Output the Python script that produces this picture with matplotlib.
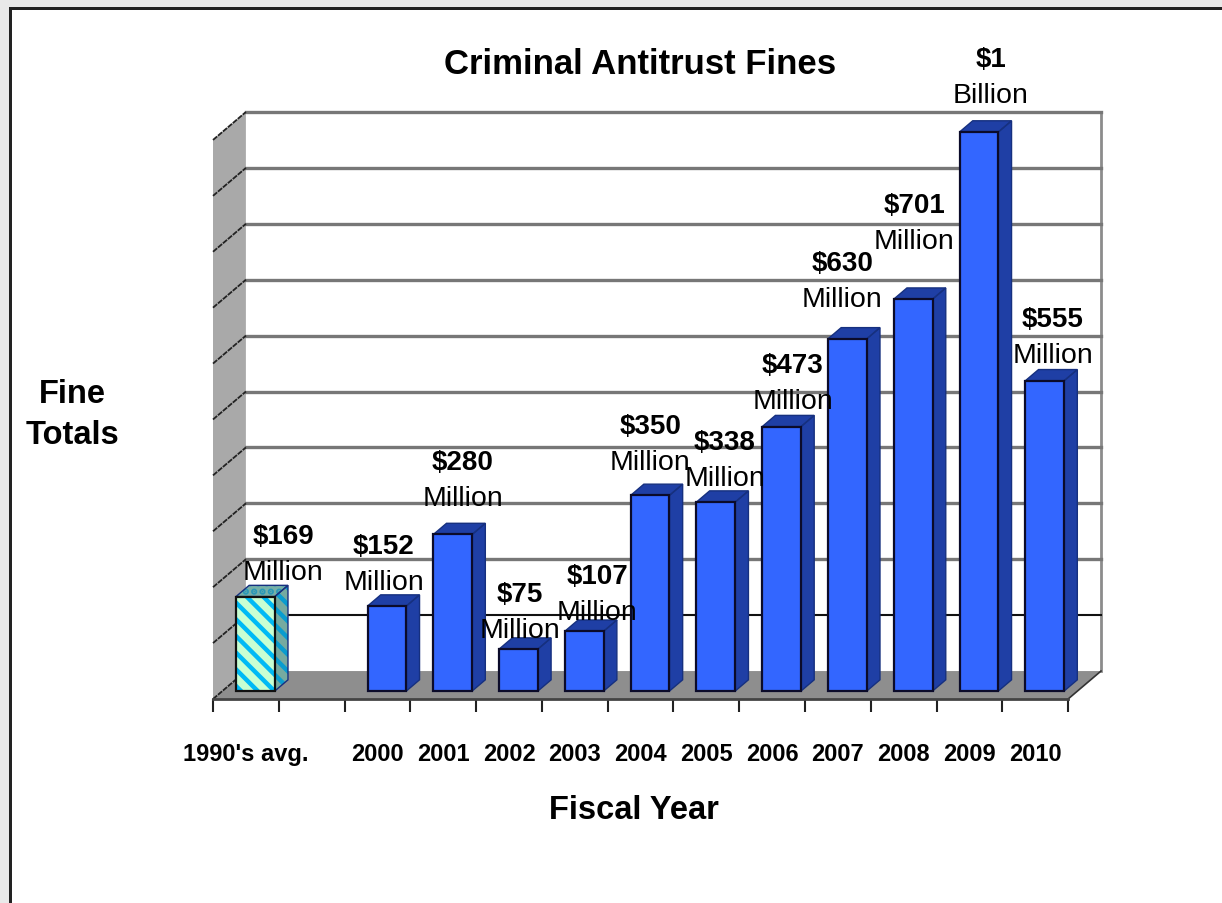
import matplotlib
matplotlib.use('Agg')
import matplotlib.pyplot as plt
from matplotlib.patches import Rectangle

plt.rcParams['font.family'] = ['Liberation Sans', 'DejaVu Sans']
plt.rcParams['hatch.linewidth'] = 3.2

# Fine totals in millions of dollars
categories = ["1990's avg.", "", "2000", "2001", "2002", "2003", "2004", "2005",
              "2006", "2007", "2008", "2009", "2010"]
fines = [169, None, 152, 280, 75, 107, 350, 338, 473, 630, 701, 1000, 555]
amount_labels = ["$169", None, "$152", "$280", "$75", "$107", "$350", "$338",
                 "$473", "$630", "$701", "$1", "$555"]
unit_labels = ["Million", None, "Million", "Million", "Million", "Million", "Million",
               "Million", "Million", "Million", "Million", "Billion", "Million"]
grid_values = [0, 100, 200, 300, 400, 500, 600, 700, 800, 900, 1000]

# 3D look: depth of the box and of each bar, in data units
BOX_DX, BOX_DY = 0.5, 50
BAR_SHIFT_X, BAR_SHIFT_Y = 0.145, 14.3
BAR_DX, BAR_DY = 0.2, 20
BAR_W = 0.59

# label placement relative to the top of each bar, in pixels
label_dx = [28, 0, -3, 10, 1, 13, 0, 9, 11, -5, 1, 12, 8]
label_dy = [12, 0, 11, 23, 6, 6, 20, 11, 13, 27, 45, 24, 13]

fig = plt.figure(figsize=(12.22, 9.04), dpi=100, facecolor='white')

# window frame around the page
fig.add_artist(Rectangle((0, 0), 9 / 1222, 1, transform=fig.transFigure, color='#e9e9e9', lw=0))
fig.add_artist(Rectangle((0, 1 - 8 / 904), 1, 8 / 904, transform=fig.transFigure, color='#e9e9e9', lw=0))
fig.add_artist(Rectangle((9 / 1222, 0), 3 / 1222, 1 - 8 / 904, transform=fig.transFigure, color='#222222', lw=0))
fig.add_artist(Rectangle((9 / 1222, 1 - 11 / 904), 1 - 9 / 1222, 3 / 904, transform=fig.transFigure, color='#222222', lw=0))

ax = fig.add_axes([213 / 1222, 204 / 904, 888 / 1222, 587 / 904])
ax.set_xlim(0, 13 + BOX_DX)
ax.set_ylim(0, 1000 + BOX_DY)
ax.patch.set_visible(False)
for s in ax.spines.values():
    s.set_visible(False)
ax.set_yticks([])

# box walls and floor
right = len(categories)
ax.fill([0, BOX_DX, BOX_DX, 0], [0, BOX_DY, 1000 + BOX_DY, 1000], color='#a9a9a9', lw=0, zorder=1)
ax.fill([0, right, right + BOX_DX, BOX_DX], [0, 0, BOX_DY, BOX_DY], color='#8e8e8e', lw=0, zorder=1)
ax.plot([right + BOX_DX] * 2, [BOX_DY, 1000 + BOX_DY], color='#8c8c8c', lw=2, zorder=1.5, clip_on=False)
ax.plot([right, right + BOX_DX], [0, BOX_DY], color='#333333', lw=1.2, zorder=2, clip_on=False)

for v in grid_values:
    col = '#111111' if v == 100 else '#777777'
    lw = 1.5 if v == 100 else 2.4
    if v > 0:
        ax.plot([BOX_DX, right + BOX_DX], [v + BOX_DY] * 2, color=col, lw=lw, zorder=1.5, clip_on=False)
    ax.plot([0, BOX_DX], [v, v + BOX_DY], color='#222222', lw=1.3, ls=(0, (3, 0.6)), zorder=2, clip_on=False)
ax.plot([0, right], [0, 0], color='#444444', lw=2, zorder=2, clip_on=False)

# bars, front face first then the side and top faces
for i, val in enumerate(fines):
    if val is None:
        continue
    x0 = i + 0.5 - BAR_W / 2 + BAR_SHIFT_X
    x1 = x0 + BAR_W
    y0 = BAR_SHIFT_Y
    y1 = y0 + val
    side_x = [x1, x1 + BAR_DX, x1 + BAR_DX, x1]
    side_y = [y0, y0 + BAR_DY, y1 + BAR_DY, y1]
    top_x = [x0, x1, x1 + BAR_DX, x0 + BAR_DX]
    top_y = [y1, y1, y1 + BAR_DY, y1 + BAR_DY]
    if i == 0:
        ax.fill(side_x, side_y, facecolor='#76aaa0', edgecolor='#0a9ccf', hatch='\\\\', lw=0, zorder=3)
        ax.fill(top_x, top_y, facecolor='#76b0a8', edgecolor='#2a98b8', hatch='..', lw=0, zorder=3)
        ax.bar(x0, val, BAR_W, bottom=y0, align='edge', facecolor='#c8ffd2', edgecolor='#00b9f5',
               hatch='\\\\', lw=0, zorder=3)
        ax.bar(x0, val, BAR_W, bottom=y0, align='edge', facecolor='none', edgecolor='#111111', lw=1.6, zorder=4)
    else:
        ax.fill(side_x, side_y, facecolor='#1f3fa5', lw=0, zorder=3)
        ax.fill(top_x, top_y, facecolor='#1f3fa5', lw=0, zorder=3)
        ax.bar(x0, val, BAR_W, bottom=y0, align='edge', color='#3366ff', edgecolor='#0b0b2a', lw=1.6, zorder=4)
    ax.fill(side_x, side_y, facecolor='none', edgecolor='#16307f', lw=1, zorder=3.5)
    ax.fill(top_x, top_y, facecolor='none', edgecolor='#16307f', lw=1, zorder=3.5)

    # two line value label above the bar
    ax.annotate(amount_labels[i], (i + 0.5 + BAR_SHIFT_X, y1), xytext=(label_dx[i], label_dy[i] + 36),
                textcoords='offset pixels', ha='center', va='bottom', fontsize=20, fontweight='bold', zorder=6)
    ax.annotate(unit_labels[i], (i + 0.5 + BAR_SHIFT_X, y1), xytext=(label_dx[i], label_dy[i]),
                textcoords='offset pixels', ha='center', va='bottom', fontsize=20.5, zorder=6)

# tick marks on slot edges, category names on slot centres
ax.set_xticks(range(len(categories) + 1))
ax.set_xticklabels([])
ax.tick_params(axis='x', which='major', length=9, width=1.5, color='#222222')
ax.set_xticks([i + 0.5 for i in range(len(categories))], minor=True)
ax.set_xticklabels(categories, minor=True, fontsize=17, fontweight='bold')
ax.tick_params(axis='x', which='minor', length=0, pad=31)

fig.text(640 / 1222, 1 - 65 / 904, 'Criminal Antitrust Fines', ha='center', va='center', fontsize=25, fontweight='bold')
fig.text(72 / 1222, 1 - 415 / 904, 'Fine\nTotals', ha='center', va='center', fontsize=23.5, fontweight='bold', linespacing=1.4)
fig.text(634 / 1222, 1 - 811 / 904, 'Fiscal Year', ha='center', va='center', fontsize=23.5, fontweight='bold')

fig.savefig('out.png', dpi=100)
